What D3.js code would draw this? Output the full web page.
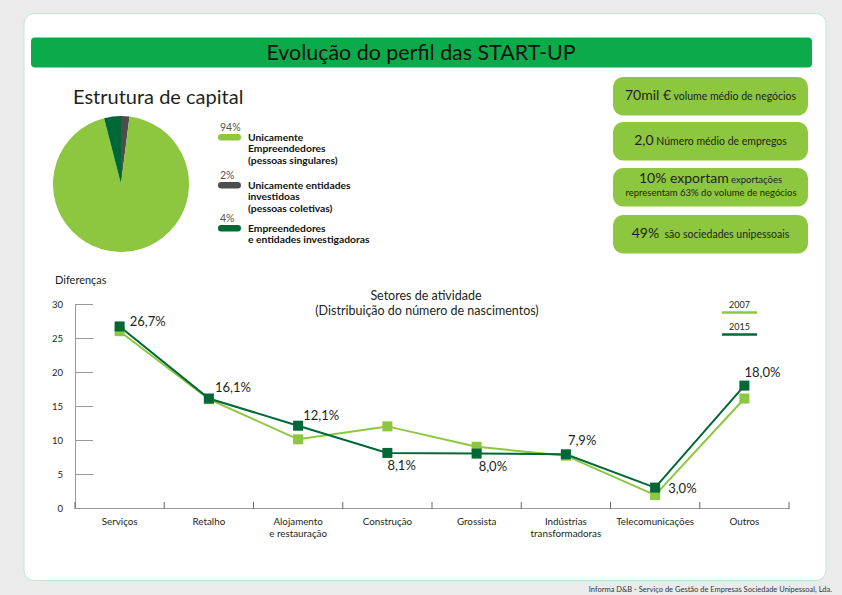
<!DOCTYPE html>
<html><head><meta charset="utf-8">
<script src="https://cdn.jsdelivr.net/npm/d3@7/dist/d3.min.js"></script>
<style>
html,body{margin:0;padding:0;background:#ebebeb;}
svg{display:block;font-family:Lato,"Open Sans",sans-serif;}
</style></head>
<body>
<svg id="c" width="842" height="595"></svg>
<script>
// ---- data ----
const categories = ["Serviços", "Retalho", "Alojamento\ne restauração", "Construção", "Grossista", "Indústrias\ntransformadoras", "Telecomunicações", "Outros"];
const values2007 = [26.0, 16.0, 10.1, 12.0, 9.0, 7.7, 1.9, 16.1];
const values2015 = [26.7, 16.1, 12.1, 8.1, 8.0, 7.9, 3.0, 18.0];
const seriesNames = ["2007", "2015"];
const yTicks = [0, 5, 10, 15, 20, 25, 30];
const pieValues = [2, 94, 4];
const piePercentLabels = ["2%", "94%", "4%"];
const pieLegend = [
  ["Unicamente", "Empreendedores", "(pessoas singulares)"],
  ["Unicamente  entidades", "investidoas", "(pessoas coletivas)"],
  ["Empreendedores", "e entidades investigadoras"]
];
const boxBig = ["70mil €", "2,0", "10% exportam", "49%"];
const boxSmall = ["volume médio de negócios", "Número médio de empregos", "exportações", "\u00a0são sociedades unipessoais"];
const boxSecondLine = ["", "", "representam 63% do volume de negócios", ""];

// ---- styles ----
const LIGHT = "#8dc63f", DARK = "#006837", GREY = "#4d4d4d", TXT = "#231f20";
const svg = d3.select("#c");

// panel
svg.append("rect").attr("x", 24).attr("y", 13.5).attr("width", 802).attr("height", 567)
  .attr("rx", 10).attr("fill", "#fff").attr("stroke", "#c4e6cf").attr("stroke-width", 1);
// title bar
svg.append("rect").attr("x", 31).attr("y", 37.5).attr("width", 781).attr("height", 30)
  .attr("rx", 4).attr("fill", "#0bab4c");
svg.append("text").attr("x", 421).attr("y", 59.5).attr("text-anchor", "middle")
  .attr("font-size", 21).attr("fill", "#111").attr("textLength", 309).attr("lengthAdjust", "spacingAndGlyphs")
  .text("Evolução  do perfil das START-UP");

// footer
svg.append("text").attr("x", 832).attr("y", 592).attr("text-anchor", "end")
  .attr("font-size", 7.5).attr("fill", "#333").text("Informa D&B - Serviço de Gestão de Empresas Sociedade Unipessoal, Lda.");

// ---- pie ----
svg.append("text").attr("x", 73).attr("y", 104).attr("font-size", 20).attr("fill", TXT).text("Estrutura de capital");
const pieColors = [GREY, LIGHT, DARK];
const pie = d3.pie().sort(null).value(d => d);
const arc = d3.arc().innerRadius(0).outerRadius(68);
svg.append("g").attr("transform", "translate(121,184)")
  .selectAll("path").data(pie(pieValues)).join("path")
  .attr("d", arc).attr("fill", (d, i) => pieColors[i]);

// legend order in picture: 94%, 2%, 4%
const legendOrder = [1, 0, 2];
const legendTop = [131, 179, 222];
legendOrder.forEach((idx, k) => {
  const y0 = legendTop[k];
  svg.append("text").attr("x", 220).attr("y", y0).attr("font-size", 10.5).attr("fill", "#555").text(piePercentLabels[idx]);
  svg.append("rect").attr("x", 218).attr("y", y0 + 3).attr("width", 23).attr("height", 6.5).attr("rx", 3.2)
    .attr("fill", pieColors[idx]);
  const t = svg.append("text").attr("x", 248).attr("font-size", 10.3).attr("font-weight", "bold").attr("fill", "#111");
  pieLegend[k].forEach((line, j) => {
    t.append("tspan").attr("x", 248).attr("y", y0 + 9.5 + j * 11.7).text(line);
  });
});

// ---- right boxes ----
const boxY = [77, 122, 168, 215];
boxBig.forEach((b, i) => {
  svg.append("rect").attr("x", 613).attr("y", boxY[i]).attr("width", 195).attr("height", 38.5)
    .attr("rx", 10).attr("fill", LIGHT);
  const hasSecond = boxSecondLine[i] !== "";
  const t = svg.append("text").attr("x", 710.5).attr("y", boxY[i] + (hasSecond ? 15 : 23))
    .attr("text-anchor", "middle").attr("fill", TXT);
  t.append("tspan").attr("font-size", 14).text(b);
  t.append("tspan").attr("font-size", hasSecond ? 9.5 : 10.5).text(" " + boxSmall[i]);
  if (hasSecond) {
    svg.append("text").attr("x", 711).attr("y", boxY[i] + 28).attr("text-anchor", "middle")
      .attr("font-size", 9.5).attr("fill", TXT).text(boxSecondLine[i]);
  }
});

// ---- line chart ----
const x = d3.scaleBand().domain(categories).range([75, 789]);
const y = d3.scaleLinear().domain([0, 30]).range([508, 304]);
const AX = "#9a9a9a";

svg.append("text").attr("x", 55).attr("y", 284).attr("font-size", 11).attr("fill", TXT).text("Diferenças");

const yAxis = svg.append("g").attr("transform", "translate(75,0)")
  .call(d3.axisLeft(y).tickValues(yTicks).tickSizeInner(-18).tickSizeOuter(0).tickPadding(12));
yAxis.select(".domain").attr("stroke", AX);
yAxis.selectAll(".tick line").attr("stroke", AX);
yAxis.selectAll(".tick text").attr("font-size", 9.5).attr("fill", TXT).attr("font-family", "Lato, sans-serif");
yAxis.selectAll(".tick").filter(d => d === 0).select("line").remove();

const xAxis = svg.append("g").attr("transform", "translate(0,508)")
  .call(d3.axisBottom(x).tickSize(0).tickPadding(0));
xAxis.select(".domain").attr("stroke", AX);
xAxis.selectAll(".tick text").each(function(d) {
  const el = d3.select(this).text(null).attr("dy", null).attr("y", null)
    .attr("font-size", 9.8).attr("fill", TXT).attr("font-family", "Lato, sans-serif");
  d.split("\n").forEach((line, j) => el.append("tspan").attr("x", 0).attr("y", 17 + j * 12).text(line));
});
// boundary ticks
const bounds = categories.map(c => x(c)).concat([x.range()[1]]);
svg.append("g").selectAll("line").data(bounds).join("line")
  .attr("x1", d => d).attr("x2", d => d).attr("y1", 502).attr("y2", 509)
  .attr("stroke", "#666").attr("stroke-width", 1);

// chart titles
svg.append("text").attr("x", 426).attr("y", 300).attr("text-anchor", "middle").attr("font-size", 12.5).attr("fill", TXT).text("Setores de atividade");
svg.append("text").attr("x", 427).attr("y", 315).attr("text-anchor", "middle").attr("font-size", 12.5).attr("fill", TXT).text("(Distribuição do número de nascimentos)");

const line = d3.line().x((d, i) => x(categories[i]) + x.bandwidth() / 2).y(d => y(d));
const series = [values2007, values2015];
const colors = [LIGHT, DARK];
series.forEach((vals, s) => {
  svg.append("path").datum(vals).attr("d", line).attr("fill", "none")
    .attr("stroke", colors[s]).attr("stroke-width", 2);
});
series.forEach((vals, s) => {
  svg.append("g").selectAll("rect").data(vals).join("rect")
    .attr("x", (d, i) => x(categories[i]) + x.bandwidth() / 2 - 5)
    .attr("y", d => y(d) - 5).attr("width", 10).attr("height", 10)
    .attr("fill", colors[s]);
});

// value labels for 2015
const labelOffsets = [[10, 0], [6, -7], [5, -6], [0, 17], [2, 17], [2, -9], [13, 5], [0, -9]];
svg.append("g").selectAll("text").data(values2015).join("text")
  .attr("x", (d, i) => x(categories[i]) + x.bandwidth() / 2 + labelOffsets[i][0])
  .attr("y", (d, i) => y(d) + labelOffsets[i][1])
  .attr("font-size", 13).attr("fill", TXT)
  .text(d => d.toFixed(1).replace(".", ",") + "%");

// legend
const legY = [308, 330];
seriesNames.forEach((n, s) => {
  svg.append("text").attr("x", 739.5).attr("y", legY[s]).attr("text-anchor", "middle")
    .attr("font-size", 9).attr("fill", TXT).text(n);
  svg.append("line").attr("x1", 722).attr("x2", 757).attr("y1", legY[s] + 4.5).attr("y2", legY[s] + 4.5)
    .attr("stroke", colors[s]).attr("stroke-width", 2.5);
});
</script>
</body></html>
